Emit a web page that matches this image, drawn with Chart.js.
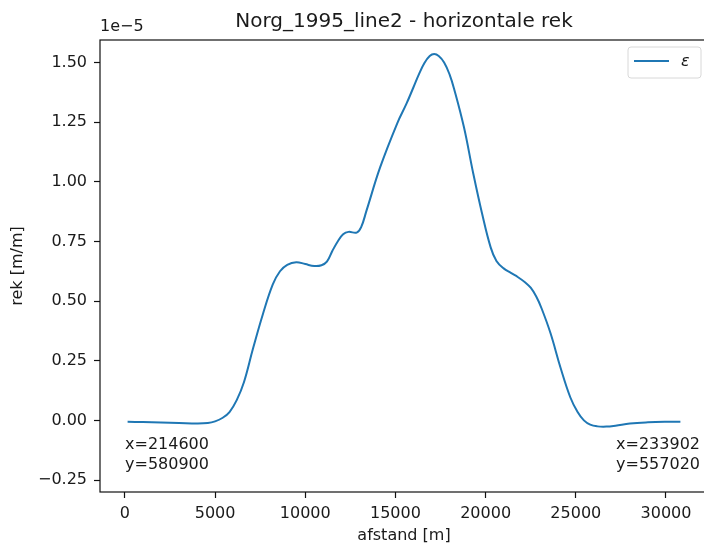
<!DOCTYPE html>
<html>
<head>
<meta charset="utf-8">
<script src="https://cdn.jsdelivr.net/npm/chart.js@4/dist/chart.umd.min.js"></script>
<style>
  html, body { margin: 0; padding: 0; background: #fff; overflow: hidden; }
  #wrap { width: 704px; height: 550px; overflow: hidden; position: relative; }
  canvas { position: absolute; left: 0; top: 0; }
</style>
</head>
<body>
<div id="wrap"><canvas id="rekChart" width="712" height="550"></canvas></div>
<script>
/* Data (rek in units of 1e-5 m/m) */
const distance = [150, 1000, 2000, 3000, 4000, 4600, 5000, 5400, 5800, 6200, 6600, 7100, 7650, 8200,
  8600, 9000, 9500, 10000, 10500, 10900, 11200, 11500, 11800, 12100, 12400, 12850, 13100, 13400,
  14150, 15100, 15600, 16000, 16300, 16600, 16900, 17150, 17400, 17700, 18000, 18250, 18800, 19300,
  19800, 20280, 20600, 21000, 21400, 21800, 22200, 22500, 22800, 23100, 23600, 24150, 24700, 25100,
  25450, 25800, 26200, 26700, 27200, 28000, 29000, 30000, 30800];
const rek = [-0.006, -0.007, -0.009, -0.011, -0.013, -0.011, -0.004, 0.010, 0.035, 0.085, 0.16,
  0.30, 0.445, 0.57, 0.625, 0.652, 0.663, 0.655, 0.647, 0.650, 0.665, 0.71, 0.75, 0.78, 0.79, 0.787,
  0.81, 0.88, 1.06, 1.245, 1.325, 1.396, 1.45, 1.497, 1.527, 1.535, 1.527, 1.50, 1.45, 1.39, 1.228,
  1.04, 0.868, 0.725, 0.668, 0.637, 0.618, 0.600, 0.578, 0.556, 0.52, 0.47, 0.365, 0.222, 0.096,
  0.035, 0.0, -0.018, -0.025, -0.026, -0.022, -0.013, -0.008, -0.006, -0.006];
const xTicks = [0, 5000, 10000, 15000, 20000, 25000, 30000];
const yTicks = [-0.25, 0, 0.25, 0.5, 0.75, 1.0, 1.25, 1.5];
const titleText = 'Norg_1995_line2 - horizontale rek';
const startLabel = ['x=214600', 'y=580900'];
const endLabel = ['x=233902', 'y=557020'];

const FONT = 'DejaVu Sans';
const TXT = '#1a1a1a';
const BLUE = '#1f77b4';

/* Frame, title, offset text, annotations and legend drawn like matplotlib */
const mplExtras = {
  id: 'mplExtras',
  afterDraw(chart) {
    const {ctx, chartArea: a} = chart;
    ctx.save();
    // spines
    ctx.strokeStyle = '#111';
    ctx.lineWidth = 1.2;
    ctx.strokeRect(a.left, a.top, a.right - a.left, a.bottom - a.top);

    // title, centred over the axes
    ctx.fillStyle = TXT;
    ctx.font = '20px "' + FONT + '"';
    ctx.textAlign = 'center';
    ctx.textBaseline = 'alphabetic';
    ctx.fillText(titleText, (a.left + a.right) / 2, 27);

    ctx.font = '16px "' + FONT + '"';
    // offset text
    ctx.textAlign = 'left';
    ctx.textBaseline = 'bottom';
    ctx.fillText('1e\u22125', a.left, a.top - 5);

    // start / end coordinates
    ctx.textBaseline = 'middle';
    ctx.fillText(startLabel[0], a.left + 25, 445);
    ctx.fillText(startLabel[1], a.left + 25, 465);
    ctx.textAlign = 'right';
    ctx.fillText(endLabel[0], 700, 445);
    ctx.fillText(endLabel[1], 700, 465);

    // legend box
    const lx = 628, ly = 47, lw = 73, lh = 31;
    ctx.beginPath();
    ctx.roundRect(lx, ly, lw, lh, 3);
    ctx.fillStyle = 'rgba(255,255,255,0.8)';
    ctx.fill();
    ctx.strokeStyle = '#d8d8d8';
    ctx.lineWidth = 1;
    ctx.stroke();
    ctx.beginPath();
    ctx.moveTo(634, 61);
    ctx.lineTo(669, 61);
    ctx.strokeStyle = BLUE;
    ctx.lineWidth = 2;
    ctx.stroke();
    ctx.fillStyle = TXT;
    ctx.textAlign = 'left';
    ctx.font = 'italic 16px "' + FONT + '"';
    ctx.fillText(chart.data.datasets[0].label, 681, 62);
    ctx.restore();
  }
};

const data = {
  datasets: [{
    label: '\u03b5',
    data: distance.map((d, i) => ({x: d, y: rek[i]})),
    borderColor: BLUE,
    borderWidth: 2,
    pointRadius: 0,
    fill: false,
    tension: 0.4
  }]
};

const config = {
  type: 'line',
  data: data,
  options: {
    responsive: false,
    animation: false,
    layout: {padding: {left: 0, right: 4, top: 40, bottom: 0}},
    plugins: {
      legend: {display: false},
      tooltip: {enabled: false},
      title: {display: false}
    },
    scales: {
      x: {
        type: 'linear',
        min: -1380,
        max: 32330,
        afterFit: s => { s.height = 58; },
        afterBuildTicks: s => { s.ticks = xTicks.map(v => ({value: v})); },
        grid: {drawOnChartArea: false, drawTicks: true, tickLength: 6, tickColor: '#111', tickWidth: 1.2},
        border: {display: false},
        ticks: {color: TXT, font: {family: FONT, size: 16}, padding: 6, maxRotation: 0,
          callback: v => String(v)},
        title: {display: true, text: 'afstand [m]', color: TXT,
          font: {family: FONT, size: 16}, padding: {top: 0, bottom: 5}}
      },
      y: {
        min: -0.30,
        max: 1.594,
        afterFit: s => { s.width = 100; },
        afterBuildTicks: s => { s.ticks = yTicks.map(v => ({value: v})); },
        grid: {drawOnChartArea: false, drawTicks: true, tickLength: 6, tickColor: '#111', tickWidth: 1.2},
        border: {display: false},
        ticks: {color: TXT, font: {family: FONT, size: 16}, padding: 7,
          callback: v => v.toFixed(2).replace('-', '\u2212')},
        title: {display: true, text: 'rek [m/m]', color: TXT,
          font: {family: FONT, size: 16}, padding: {top: 8, bottom: 0}}
      }
    }
  },
  plugins: [mplExtras]
};

var rekChart = new Chart(document.getElementById('rekChart'), config);
</script>
</body>
</html>
